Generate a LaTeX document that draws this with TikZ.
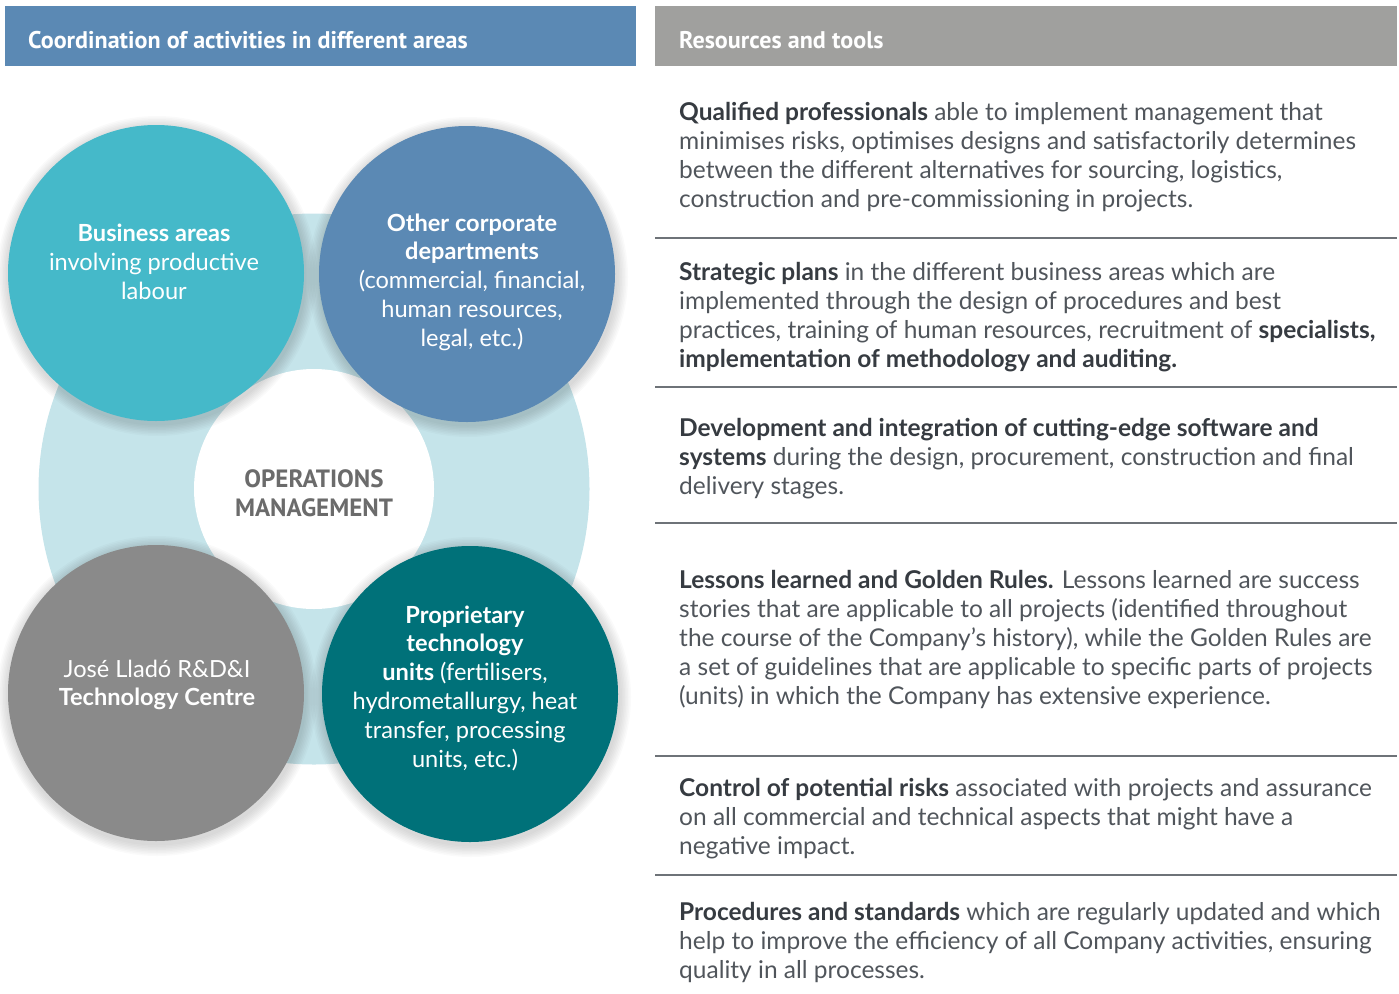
\documentclass[tikz,border=0pt]{standalone}
\usepackage{fontspec}
\setmainfont{Lato}
\newfontfamily\headfont{PT Sans}
\usetikzlibrary{positioning,calc}
\definecolor{hblue}{HTML}{5B89B4}
\definecolor{hgrey}{HTML}{A0A09E}
\definecolor{ringblue}{HTML}{C5E4EA}
\definecolor{cyanarea}{HTML}{45B9C9}
\definecolor{bluedept}{HTML}{5B89B4}
\definecolor{greytech}{HTML}{8A8A8A}
\definecolor{tealunit}{HTML}{007179}
\definecolor{opsgrey}{HTML}{6B6B6B}
\definecolor{ink}{HTML}{50555B}
\definecolor{inkbold}{HTML}{363B41}
\definecolor{rulegrey}{HTML}{6E7378}
\newcommand{\keyterm}[1]{{\bfseries\color{inkbold}#1}}

\begin{document}
\begin{tikzpicture}[x=1pt, y=-1pt,
  headbar/.style={anchor=north west, inner sep=0pt, minimum height=60pt},
  headtext/.style={anchor=west, inner sep=0pt, text=white, font=\headfont\bfseries\fontsize{24.1}{28}\selectfont},
  bubble/.style={circle, minimum size=296pt, inner sep=0pt},
  bubbletext/.style={align=center, inner sep=0pt, text=white, font=\fontsize{23.6}{28.8}\selectfont},
  item/.style={anchor=north west, align=left, inner sep=0pt, text=ink, font=\fontsize{24.5}{29}\selectfont},
  sepline/.style={draw=rulegrey, line width=1.2pt}]
\useasboundingbox (0,0) rectangle (1399,993);

% ---------------- headers
\node[headbar, fill=hblue, minimum width=631pt] (lefthead) at (5,6) {};
\node[headbar, fill=hgrey, minimum width=742pt] (righthead) at (655,6) {};
\node[headtext] (lefttitle) at ([xshift=23pt, yshift=-4pt]lefthead.west) {Coordination of activities in different areas};
\node[headtext] (righttitle) at ([xshift=24pt, yshift=-4pt]righthead.west) {Resources and tools};

% ---------------- ring and core
\node[circle, fill=ringblue, minimum size=551pt, inner sep=0pt] (ring) at (314,489) {};
\node[circle, fill=white, minimum size=240pt, inner sep=0pt] (core) at (314,489) {};
\node[align=center, inner sep=0pt, text=opsgrey, font=\headfont\bfseries\fontsize{25}{29}\selectfont]
  (opstext) at ([yshift=-4pt]core.center) {OPERATIONS\\MANAGEMENT};

% ---------------- soft shadows under the four areas
\foreach \cx/\cy in {156/273, 467/274, 156/693, 470/694}
  \foreach \k in {1,...,8}
    \fill[black, opacity=0.018] (\cx+1,\cy+3) circle[radius=148pt+\k*1.5pt];

% ---------------- four areas
\node[bubble, fill=cyanarea] (business) at (156,273) {};
\node[bubble, fill=bluedept] (corporate) at (467,274) {};
\node[bubble, fill=greytech] (techcentre) at (156,693) {};
\node[bubble, fill=tealunit] (propunits) at (470,694) {};

\node[bubbletext] (businesstext) at ([xshift=-2pt, yshift=11pt]business.center)
  {\textbf{Business areas}\\involving productive\\labour};
\node[bubbletext] (corporatetext) at ([xshift=5pt, yshift=-8pt]corporate.center)
  {\textbf{Other corporate}\\\textbf{departments}\\(commercial, financial,\\human resources,\\legal, etc.)};
\node[bubbletext] (techtext) at ([xshift=1pt, yshift=8pt]techcentre.center)
  {José Lladó R\&D\&I\\\textbf{Technology Centre}};
\node[bubbletext] (proptext) at ([xshift=-5pt, yshift=6pt]propunits.center)
  {\textbf{Proprietary}\\\textbf{technology}\\\textbf{units} (fertilisers,\\hydrometallurgy, heat\\transfer, processing\\units, etc.)};

% ---------------- resources and tools
\foreach \y in {238,387,523,756,875}
  \draw[sepline] (655,\y) -- (1397,\y);

\node[item] (qualified) at (679,102)
  {\keyterm{Qualified professionals} able to implement management that\\
   minimises risks, optimises designs and satisfactorily determines\\
   between the different alternatives for sourcing, logistics,\\
   construction and pre-commissioning in projects.};
\node[item] (strategic) at (679,262)
  {\keyterm{Strategic plans} in the different business areas which are\\
   implemented through the design of procedures and best\\
   practices, training of human resources, recruitment of \keyterm{specialists,}\\
   \keyterm{implementation of methodology and auditing.}};
\node[item] (software) at (679,418)
  {\keyterm{Development and integration of cutting-edge software and}\\
   \keyterm{systems} during the design, procurement, construction and final\\
   delivery stages.};
\node[item] (lessons) at (679,570)
  {\keyterm{Lessons learned and Golden Rules.} Lessons learned are success\\
   stories that are applicable to all projects (identified throughout\\
   the course of the Company’s history), while the Golden Rules are\\
   a set of guidelines that are applicable to specific parts of projects\\
   (units) in which the Company has extensive experience.};
\node[item] (risks) at (679,778)
  {\keyterm{Control of potential risks} associated with projects and assurance\\
   on all commercial and technical aspects that might have a\\
   negative impact.};
\node[item] (standards) at (679,902)
  {\keyterm{Procedures and standards} which are regularly updated and which\\
   help to improve the efficiency of all Company activities, ensuring\\
   quality in all processes.};
\end{tikzpicture}
\end{document}
